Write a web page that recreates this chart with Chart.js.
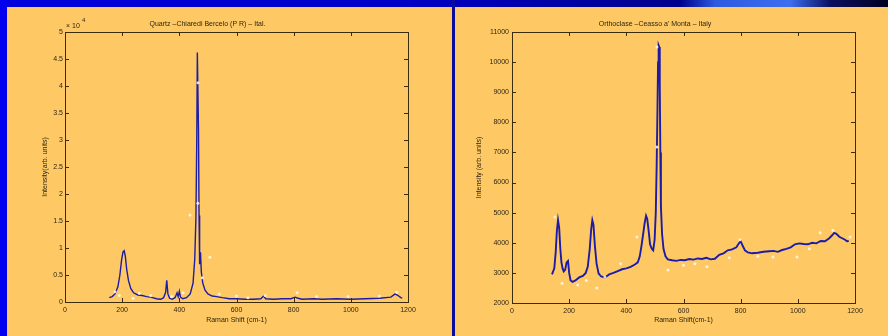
<!DOCTYPE html>
<html><head><meta charset="utf-8">
<script src="https://cdn.jsdelivr.net/npm/chart.js@4.4.0/dist/chart.umd.min.js"></script>
<style>
html,body{margin:0;padding:0;width:888px;height:336px;overflow:hidden;background:#fec964;}
#topbar{position:absolute;left:0;top:0;width:888px;height:7px;background:linear-gradient(90deg,#0000dd 0px,#0000c8 400px,#00008c 680px,#2c5ae0 715px,#3d6ef0 790px,#0a1060 830px,#000020 888px);}
#leftbar{position:absolute;left:0;top:0;width:7px;height:336px;background:#0000ee;}
#divider{position:absolute;left:452px;top:0;width:3px;height:336px;background:#0c0c9c;}
#w1{position:absolute;left:7px;top:7px;width:445px;height:329px;}
#w2{position:absolute;left:455px;top:7px;width:433px;height:329px;}
</style>
</head><body>
<div id="topbar"></div><div id="leftbar"></div><div id="divider"></div>
<div id="w1"><canvas id="c1" width="445" height="329"></canvas></div>
<div id="w2"><canvas id="c2" width="433" height="329"></canvas></div>
<script>
// ---- Data ----
const xTicks = [0, 200, 400, 600, 800, 1000, 1200];

const quartzTitle = "Quartz \u2013Chiaredi Bercelo (P R) \u2013 Ital.";
const quartzShift = [155,165,175,185,192,198,203,207,211,216,222,230,240,255,270,285,300,320,335,345,352,356,360,366,375,385,392,396,400,404,412,425,438,448,454,458,461,463,465,467,469,471,474,477,482,490,500,515,530,550,575,600,630,660,685,695,702,730,760,790,805,815,830,870,900,950,1000,1050,1100,1140,1155,1165,1175,1180];
const quartzIntensity = [0.08,0.10,0.15,0.28,0.50,0.78,0.93,0.95,0.85,0.60,0.40,0.25,0.17,0.13,0.12,0.10,0.09,0.06,0.05,0.08,0.18,0.40,0.15,0.07,0.05,0.08,0.17,0.10,0.20,0.09,0.06,0.08,0.15,0.35,0.80,1.55,3.0,4.62,4.62,3.2,1.6,0.7,0.92,0.55,0.35,0.22,0.15,0.11,0.10,0.08,0.06,0.06,0.05,0.05,0.06,0.11,0.06,0.05,0.06,0.06,0.09,0.07,0.05,0.06,0.05,0.06,0.05,0.06,0.07,0.09,0.15,0.12,0.08,0.07];
const quartzDotShift = [175,190,238,260,300,373,413,437,465,465,480,507,540,600,640,700,812,880,990,1100,1160];
const quartzDotIntensity = [0.19,0.12,0.07,0.16,0.12,0.10,0.17,1.61,1.83,4.06,0.45,0.83,0.15,0.11,0.08,0.12,0.17,0.10,0.10,0.11,0.18];
const quartzYTicks = [0,0.5,1,1.5,2,2.5,3,3.5,4,4.5,5];

const orthoTitle = "Orthoclase \u2013Ceasso a' Monta \u2013 Italy";
const orthoShift = [140,148,153,157,161,165,169,173,177,181,186,191,196,200,205,212,222,235,248,258,265,272,277,281,285,290,296,303,312,325,340,355,370,385,400,415,430,440,447,453,459,464,469,473,478,483,489,494,499,503,506,509,511,513,515,517,519,521,525,530,537,545,560,575,590,605,620,635,650,665,680,695,710,725,740,755,770,785,795,800,807,815,825,840,860,880,900,915,930,945,960,975,990,1005,1020,1035,1050,1065,1080,1095,1110,1120,1127,1135,1145,1155,1165,1172,1178];
const orthoIntensity = [2950,3150,3700,4400,4750,4500,3800,3350,3150,3050,3100,3350,3400,3000,2750,2700,2750,2850,2900,3000,3200,3800,4450,4750,4600,3900,3300,2980,2880,2850,2950,3000,3060,3120,3150,3200,3280,3350,3550,3900,4300,4650,4900,4800,4400,3950,3800,3750,4100,5000,6500,8500,10000,10550,10500,9200,7000,5200,4300,3800,3550,3450,3420,3400,3430,3420,3460,3440,3480,3460,3500,3450,3470,3600,3650,3750,3780,3850,4000,4050,3900,3750,3680,3650,3670,3700,3720,3730,3700,3760,3800,3850,3950,3980,3960,3950,4000,3980,4060,4050,4150,4250,4330,4300,4200,4150,4100,4050,4060];
const orthoDotShift = [150,175,230,260,297,325,380,437,507,507,546,600,640,682,760,798,860,913,997,1040,1078,1123,1183];
const orthoDotIntensity = [4860,2660,2600,2750,2500,2860,3300,4190,10500,7180,3100,3250,3300,3200,3500,4100,3550,3530,3530,3800,4330,4420,4190];
const orthoYTicks = [2000,3000,4000,5000,6000,7000,8000,9000,10000,11000];

// ---- Styling ----
const FONT = "'Liberation Sans', Arial, sans-serif";
const TXT = '#2e2516';
const AX = '#3a2c0c';

const boxPlugin = {
  id: 'box',
  afterDraw(chart) {
    const {ctx, chartArea: a, scales} = chart;
    ctx.save();
    ctx.strokeStyle = AX; ctx.lineWidth = 1;
    ctx.strokeRect(Math.round(a.left)+0.5, Math.round(a.top)+0.5, Math.round(a.right-a.left), Math.round(a.bottom-a.top));
    const L = 4;
    ctx.beginPath();
    scales.x.ticks.forEach(t => {
      const px = Math.round(scales.x.getPixelForValue(t.value)) + 0.5;
      ctx.moveTo(px, a.bottom); ctx.lineTo(px, a.bottom - L);
      ctx.moveTo(px, a.top); ctx.lineTo(px, a.top + L);
    });
    scales.y.ticks.forEach(t => {
      const py = Math.round(scales.y.getPixelForValue(t.value)) + 0.5;
      ctx.moveTo(a.left, py); ctx.lineTo(a.left + L, py);
      ctx.moveTo(a.right, py); ctx.lineTo(a.right - L, py);
    });
    ctx.stroke();
    const ex = chart.options.plugins.box && chart.options.plugins.box.exponent;
    if (ex) {
      ctx.fillStyle = TXT;
      ctx.font = "7px " + FONT;
      ctx.textBaseline = 'middle';
      ctx.fillText("\u00d7 10", a.left + 1, a.top - 6);
      ctx.font = "6px " + FONT;
      ctx.fillText(ex, a.left + 17, a.top - 12);
    }
    ctx.restore();
  }
};

function makeChart(id, cfg) {
  return new Chart(document.getElementById(id), {
    type: 'line',
    data: {
      datasets: [
        {
          data: cfg.xs.map((x, i) => ({x, y: cfg.ys[i]})),
          borderColor: '#1c1ca6', borderWidth: cfg.lw, pointRadius: 0, tension: 0, fill: false, order: 2
        },
        {
          data: cfg.dx.map((x, i) => ({x, y: cfg.dy[i]})),
          showLine: false, pointRadius: 1.5, pointBackgroundColor: 'rgba(255,250,235,0.85)',
          pointBorderWidth: 0, borderColor: 'rgba(0,0,0,0)', order: 1
        }
      ]
    },
    options: {
      responsive: false, animation: false, events: [],
      layout: {padding: {left: 0, right: cfg.padRight, top: 0, bottom: 0}},
      plugins: {
        legend: {display: false}, tooltip: {enabled: false},
        title: {display: true, text: cfg.title, color: TXT, font: {family: FONT, size: 7, weight: 'normal'}, padding: {top: 12.8, bottom: 3.8}},
        box: {exponent: cfg.exponent}
      },
      scales: {
        x: {
          type: 'linear', min: 0, max: 1200,
          afterBuildTicks: s => { s.ticks = xTicks.map(v => ({value: v})); },
          afterFit: s => { s.height = cfg.xh; },
          grid: {display: false, drawTicks: false}, border: {display: false},
          ticks: {color: TXT, font: {family: FONT, size: 7}, padding: 4, autoSkip: false, maxRotation: 0, callback: v => String(v)},
          title: {display: true, text: cfg.xTitle, color: TXT, font: {family: FONT, size: 7}, padding: {top: 0, bottom: 11.8}}
        },
        y: {
          type: 'linear', min: cfg.ymin, max: cfg.ymax,
          afterBuildTicks: s => { s.ticks = cfg.yTicks.map(v => ({value: v})); },
          afterFit: s => { s.width = cfg.yw; },
          grid: {display: false, drawTicks: false}, border: {display: false},
          ticks: {color: TXT, font: {family: FONT, size: 7}, padding: cfg.ypad, autoSkip: false, callback: v => String(Math.round(v * 10) / 10)},
          title: {display: true, text: cfg.yTitle, color: TXT, font: {family: FONT, size: 7}, padding: {top: cfg.yTitlePad, bottom: 0}}
        }
      }
    },
    plugins: [boxPlugin]
  });
}

makeChart('c1', {
  xs: quartzShift, ys: quartzIntensity, dx: quartzDotShift, dy: quartzDotIntensity,
  title: quartzTitle, xTitle: 'Raman Shift (cm-1)', yTitle: 'Intensity(arb. units)',
  ymin: 0, ymax: 5, yTicks: quartzYTicks, yw: 58, xh: 34, padRight: 44, ypad: 2, yTitlePad: 33.8,
  lw: 1.4, exponent: '4'
});
makeChart('c2', {
  xs: orthoShift, ys: orthoIntensity, dx: orthoDotShift, dy: orthoDotIntensity,
  title: orthoTitle, xTitle: 'Raman Shift(cm-1)', yTitle: 'Intensity (arb. units)',
  ymin: 2000, ymax: 11000, yTicks: orthoYTicks, yw: 57, xh: 33, padRight: 33, ypad: 3, yTitlePad: 19.8,
  lw: 1.9, exponent: null
});
</script>
</body></html>
